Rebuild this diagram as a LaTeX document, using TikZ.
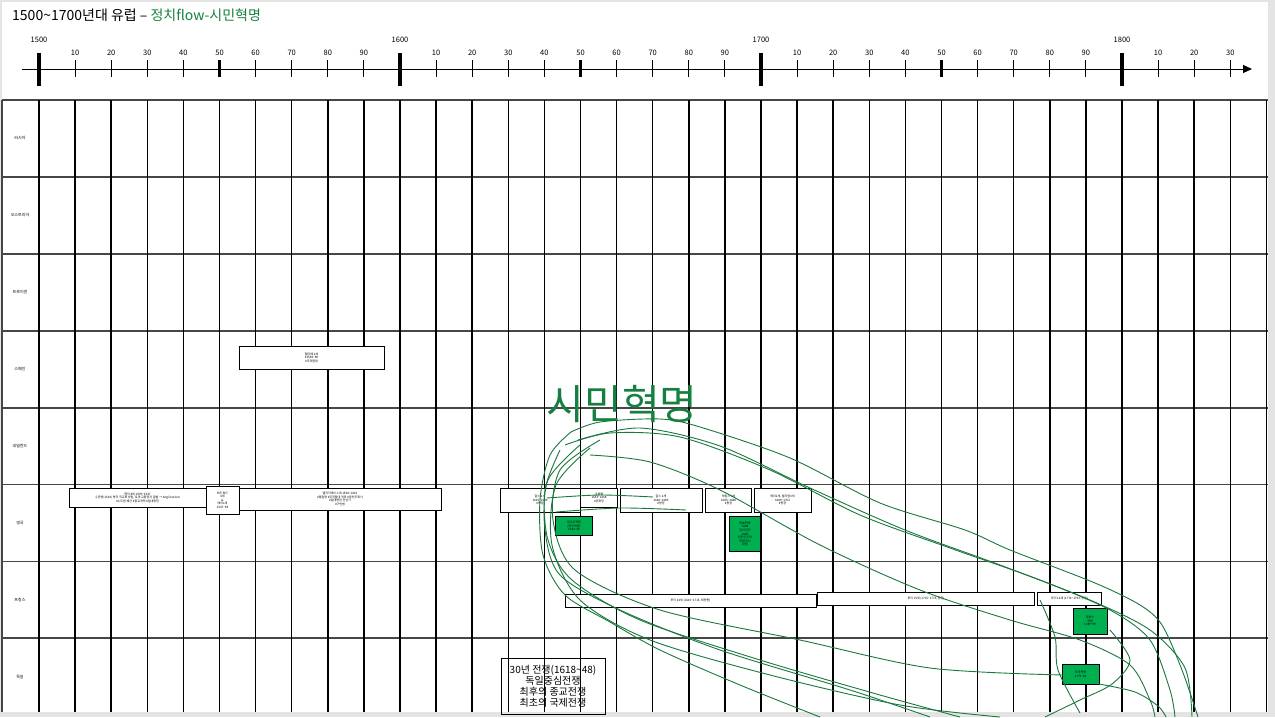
\documentclass[tikz,border=0pt]{standalone}
\usepackage{fontspec}
\setmainfont{Noto Sans CJK KR}
\usepackage{xcolor}
\definecolor{framegray}{RGB}{228,228,228}
\definecolor{gridgray}{RGB}{70,70,70}
\definecolor{flowgreen}{RGB}{22,128,64}
\definecolor{revgreen}{RGB}{0,176,80}
\definecolor{loopgreen}{RGB}{26,120,62}
\usepackage{tikz}
\usetikzlibrary{arrows.meta, positioning}

\begin{document}
\begin{tikzpicture}[x=1pt, y=-1pt, >={Triangle[length=9pt, width=8pt]},
  evbox/.style={draw=black, line width=1pt, fill=white, inner sep=0pt, align=center, font=\fontsize{3}{3.6}\selectfont},
  revbox/.style={evbox, fill=revgreen},
  rowlabel/.style={font=\fontsize{4}{5}\selectfont},
  ticklabel/.style={font=\fontsize{7.5}{9}\selectfont},
  loopline/.style={loopgreen, line width=0.9pt, line join=round}]
% frame
\fill[framegray] (0,0) rectangle (1275,717);
\fill[white] (2,2) rectangle (1268,712);
% title
\node[anchor=base west, font=\fontsize{14}{16}\selectfont, inner sep=0] (title) at (12,20) {1500\textasciitilde1700년대 유럽 – \textcolor{flowgreen}{정치flow-시민혁명}};
% grid: rows
\foreach \r in {0,...,7}
  \draw[gridgray, line width=1.8pt] (2,{100+76.9*\r}) -- (1268,{100+76.9*\r});
% grid: decade columns
\draw[gridgray, line width=1.8pt] (2,100) -- (2,712);
\foreach \k in {0,...,34}
  \draw[black, line width=1.5pt] ({39+36.1*\k},100) -- ({39+36.1*\k},712);
% row labels
\foreach \name [count=\r from 0] in {러시아, 오스트리아, 프로이센, 스페인, 네덜란드, 영국, 프랑스, 독일}
  \node[rowlabel] (row\r) at (20,{100+76.9*(\r+0.5)}) {\name};
% axis
\draw[->, line width=1pt] (22,69) -- (1252,69);
\foreach \k in {0,...,33}{
  \pgfmathsetmacro\tx{39+36.1*\k}
  \pgfmathtruncatemacro\dec{mod(\k,10)}
  \ifnum\dec=0
    \draw[line width=3.5pt] (\tx,53) -- (\tx,86);
    \node[ticklabel] (cent\k) at (\tx,40) {\the\numexpr1500+\k*10\relax};
  \else
    \ifnum\dec=5
      \draw[line width=2.4pt] (\tx,60) -- (\tx,77);
    \else
      \draw[line width=0.9pt] (\tx,60) -- (\tx,77);
    \fi
    \node[ticklabel] (dec\k) at (\tx,53) {\dec0};
  \fi
}
% spain
\node[evbox, minimum width=145, minimum height=23] (philip) at (311.5,357.5) {펠리페 2세\\\#1556\textasciitilde98\\\#무적함대};
% england
\node[evbox, minimum width=137, minimum height=19] (henry) at (137.5,497.5) {헨리 8세 1509\textasciitilde1547\\수장령(1534) 영국 국교회 성립, 로마 교황청과 결별 → Anglicanism\\\#수도원 해산 \#종교개혁 \#절대왕정};
\node[evbox, minimum width=33, minimum height=28] (edward) at (222.5,500) {에드워드\\6세\\\&\\메리1세\\1547\textasciitilde58};
\node[evbox, minimum width=202, minimum height=22] (elizabeth) at (340,499) {엘리자베스 1세 1558\textasciitilde1603\\\#통일령 \#무적함대 격파 \#동인도회사\\\#절대왕정 전성기\\\#구빈법};
\node[evbox, minimum width=80, minimum height=24] (charlesI) at (540,500) {찰스 1세\\1625\textasciitilde1649\\\#왕정};
\node[evbox, minimum width=37, minimum height=19] (cromwell) at (599,497.5) {크롬웰\\1653\textasciitilde1658\\\#공화정};
\node[evbox, minimum width=82, minimum height=24] (charlesII) at (661,500) {찰스 2세\\1660\textasciitilde1685\\\#왕정};
\node[evbox, minimum width=46, minimum height=24] (jamesII) at (728.5,500) {제임스 2세\\1685\textasciitilde1688\\\#왕정};
\node[evbox, minimum width=57, minimum height=24] (mary) at (782.5,500) {메리2세, 윌리엄3세\\1689\textasciitilde1702\\\#왕정};
\node[revbox, minimum width=37, minimum height=19] (puritan) at (574,526) {청교도혁명\\(영국혁명)\\1642\textasciitilde49};
\node[revbox, minimum width=31, minimum height=35] (glorious) at (745,534) {명예혁명\\1688\\권리장전\\1689\\입헌군주제\\의회정치\\확립};
% france
\node[evbox, minimum width=251, minimum height=13] (louisXIV) at (690.5,600.5) {루이 14세 (1643\textasciitilde1715, 태양왕)};
\node[evbox, minimum width=217, minimum height=13] (louisXV) at (926,598.5) {루이 15세 (1715\textasciitilde1774, 왕정)};
\node[evbox, minimum width=64, minimum height=13] (louisXVI) at (1069.5,598.5) {루이 16세 (1774\textasciitilde1792, 왕정)};
\node[revbox, minimum width=34, minimum height=26] (frrev) at (1090,621) {프랑스\\혁명\\1789\textasciitilde99};
% germany
\node[revbox, minimum width=37, minimum height=20] (amrev) at (1080.5,674) {미국혁명\\1775\textasciitilde83};
\node[draw=black, line width=1pt, inner sep=0pt, align=center, minimum width=104, minimum height=56, font=\fontsize{10}{11}\selectfont] (thirty) at (553,686) {30년 전쟁(1618\textasciitilde48)\\독일중심전쟁\\최후의 종교전쟁\\최초의 국제전쟁};
% civil revolution
\node[font=\fontsize{41}{44}\selectfont, text=flowgreen, inner sep=0] (simin) at (622,404) {시민혁명};
% hand-drawn loop: upper edge
\draw[loopline] plot[smooth] coordinates {(571,432) (600,422) (660,419) (700,427) (790,458) (880,503) (965,530) (1010,550) (1095,583) (1140,605) (1162,625) (1182,670) (1198,717)};
\draw[loopline] plot[smooth] coordinates {(565,445) (610,433) (680,437) (770,470) (860,515) (950,548) (1040,580) (1110,610) (1150,640) (1170,690) (1175,717)};
\draw[loopline] plot[smooth] coordinates {(590,455) (650,462) (720,490) (820,545) (920,590) (1010,620) (1080,640) (1130,665) (1150,700) (1155,717)};
\draw[loopline] plot[smooth] coordinates {(578,440) (640,428) (720,446) (810,488) (905,530) (1000,565) (1090,600) (1150,630) (1185,668) (1192,717)};
% hand-drawn loop: short strokes on the left
\draw[loopline] plot[smooth] coordinates {(547,498) (600,495) (653,497)};
\draw[loopline] plot[smooth] coordinates {(556,512) (620,508) (686,510)};
% hand-drawn loop: lower edge
\draw[loopline] plot[smooth] coordinates {(571,432) (550,455) (540,500) (543,555) (565,595) (610,622) (660,650) (740,685) (820,717)};
\draw[loopline] plot[smooth] coordinates {(560,450) (545,490) (548,540) (572,580) (640,620) (760,660) (880,695) (960,717)};
\draw[loopline] plot[smooth] coordinates {(600,440) (560,470) (553,520) (575,570) (660,610) (800,640) (930,668) (1063,675)};
\draw[loopline] plot[smooth] coordinates {(580,445) (548,480) (545,530) (560,575) (620,610) (720,650) (850,690) (930,717)};
\draw[loopline] plot[smooth] coordinates {(590,448) (556,485) (552,545) (580,600) (650,640) (770,675) (900,705) (1000,717)};
% hand-drawn loop: right end
\draw[loopline] plot[smooth] coordinates {(1040,600) (1055,637) (1058,670) (1080,713)};
\draw[loopline] plot[smooth] coordinates {(1099,684) (1135,692) (1158,706) (1166,717)};
\draw[loopline] plot[smooth] coordinates {(1110,630) (1130,660) (1112,684) (1080,700) (1045,717)};
\end{tikzpicture}
\end{document}
